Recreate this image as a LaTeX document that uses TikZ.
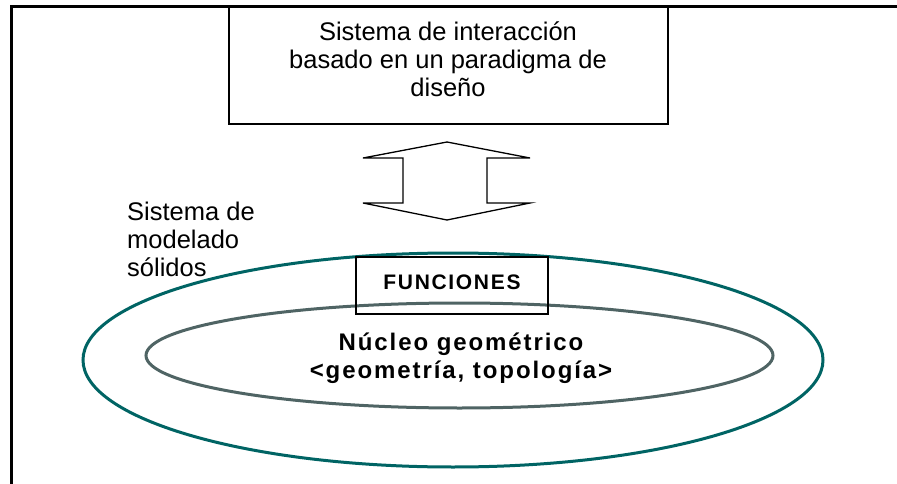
\documentclass[tikz,border=0pt]{standalone}
\usepackage{fontspec}
\setmainfont{Liberation Sans}
\newfontfamily\spbold[LetterSpace=8]{Liberation Sans}
\usetikzlibrary{shapes.geometric}
\definecolor{tealline}{HTML}{006464}
\definecolor{grayline}{HTML}{4F6464}
\begin{document}
\begin{tikzpicture}[x=1pt,y=-1pt,
  frameline/.style={line width=3pt},
  box/.style={draw, line width=1.3pt, inner sep=0, rectangle},
  ring/.style={ellipse, draw, line width=3pt, inner sep=0},
  plain/.style={inner sep=0, anchor=base, font=\fontsize{25.5}{28}\selectfont},
  boldtxt/.style={inner sep=0, anchor=base, font=\spbold\bfseries\fontsize{24}{28}\selectfont}]
\useasboundingbox (0,0) rectangle (897,484);
% outer frame (left and top edges visible)
\coordinate (fbl) at (11,484);
\coordinate (ftl) at (11,7);
\coordinate (ftr) at (897,7);
\draw[frameline] (fbl) -- (ftl) -- (ftr);
% top box
\node[box, minimum width=439pt, minimum height=117pt] (top) at (448.5,65.5) {};
\node[plain, align=center] (toptxt) at (448,97) {Sistema de interacción\\basado en un paradigma de\\diseño};
% double arrow
\draw[line width=1.3pt, line join=miter] (447,142) -- (530,158) -- (487,158) -- (487,203) -- (530,203) -- (447,220) -- (363,203) -- (403,203) -- (403,158) -- (363,158) -- cycle;
% left label
\node[plain, align=left, anchor=base west] (lbl) at (127,276) {Sistema de\\modelado\\sólidos};
% ellipses
\node[ring, draw=tealline, minimum width=740pt, minimum height=214pt] (outer) at (453,360) {};
\node[ring, draw=grayline, minimum width=627pt, minimum height=105pt] (inner) at (459.5,355.5) {};
% FUNCIONES box
\node[box, minimum width=192pt, minimum height=57pt] (func) at (452,285.5) {};
\node[boldtxt, font=\spbold\bfseries\fontsize{21}{24}\selectfont] (functxt) at (452,289) {FUNCIONES};
% core text
\node[boldtxt, align=center] (core) at (461,378) {Núcleo geométrico\\<geometría, topología>};
\end{tikzpicture}
\end{document}
